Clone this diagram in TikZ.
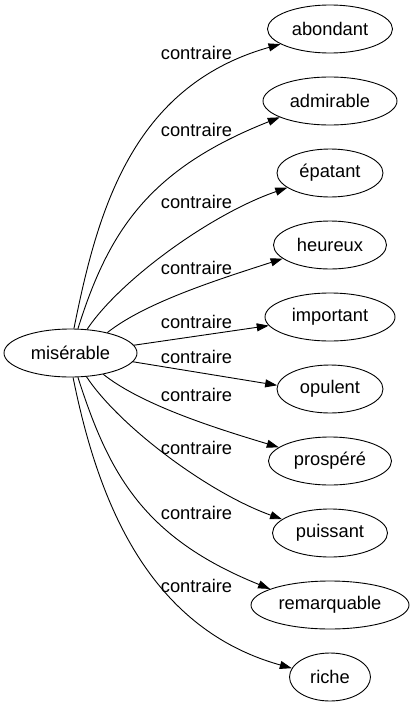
\documentclass[tikz,border=0pt]{standalone}
\usepackage{fontspec}
\setmainfont{Liberation Sans}
\usetikzlibrary{arrows.meta,shapes.geometric}
\begin{document}
\begin{tikzpicture}[x=1pt,y=-1pt,
  every node/.style={font=\fontsize{18.3}{20}\selectfont},
  word/.style={draw,ellipse,line width=0.9pt,minimum height=48pt,inner sep=0pt},
  rel/.style={inner sep=0pt},
  edge/.style={line width=0.9pt,-{Triangle[length=12pt,width=8pt]}}]
\useasboundingbox (0,0) rectangle (414,707);
\node[word,minimum width=133pt] (s) at (70.5,353) {misérable};
\node[word,minimum width=125pt] (t1) at (330,29) {abondant};
\node[word,minimum width=134pt] (t2) at (330,101) {admirable};
\node[word,minimum width=106pt] (t3) at (330,173) {épatant};
\node[word,minimum width=113pt] (t4) at (330,245) {heureux};
\node[word,minimum width=130pt] (t5) at (330,317) {important};
\node[word,minimum width=106pt] (t6) at (330,389) {opulent};
\node[word,minimum width=123pt] (t7) at (330,461) {prospéré};
\node[word,minimum width=115pt] (t8) at (330,533) {puissant};
\node[word,minimum width=158pt] (t9) at (330,605) {remarquable};
\node[word,minimum width=81pt] (t10) at (330,677) {riche};
\node[rel] (l1) at (196.5,53) {contraire};
\node[rel] (l2) at (196.5,130) {contraire};
\node[rel] (l3) at (196.5,202) {contraire};
\node[rel] (l4) at (196.5,268) {contraire};
\node[rel] (l5) at (196.5,322) {contraire};
\node[rel] (l6) at (196.5,357) {contraire};
\node[rel] (l7) at (196.5,395) {contraire};
\node[rel] (l8) at (196.5,448) {contraire};
\node[rel] (l9) at (196.5,513) {contraire};
\node[rel] (l10) at (196.5,586) {contraire};
\draw[edge] (s.82) .. controls (97.4,211) and (132,86) .. (t1.197);
\draw[edge] (s.73) .. controls (108.6,231) and (149,169) .. (t2.198);
\draw[edge] (s.55) .. controls (120,280) and (211,214) .. (t3.199);
\draw[edge] (s.29) .. controls (147,301) and (226.6,277) .. (t4.196);
\draw[edge] (s.7.5) -- (t5.188);
\draw[edge] (s.-8.4) -- (t6.176);
\draw[edge] (s.-33) .. controls (143,406) and (221.6,430) .. (t7.165);
\draw[edge] (s.-56) .. controls (119,426) and (207.8,492.6) .. (t8.164);
\draw[edge] (s.-73) .. controls (108.6,473) and (142.7,537.6) .. (t9.165);
\draw[edge] (s.-84) .. controls (96.4,493) and (144,627) .. (t10.167);
\end{tikzpicture}
\end{document}
